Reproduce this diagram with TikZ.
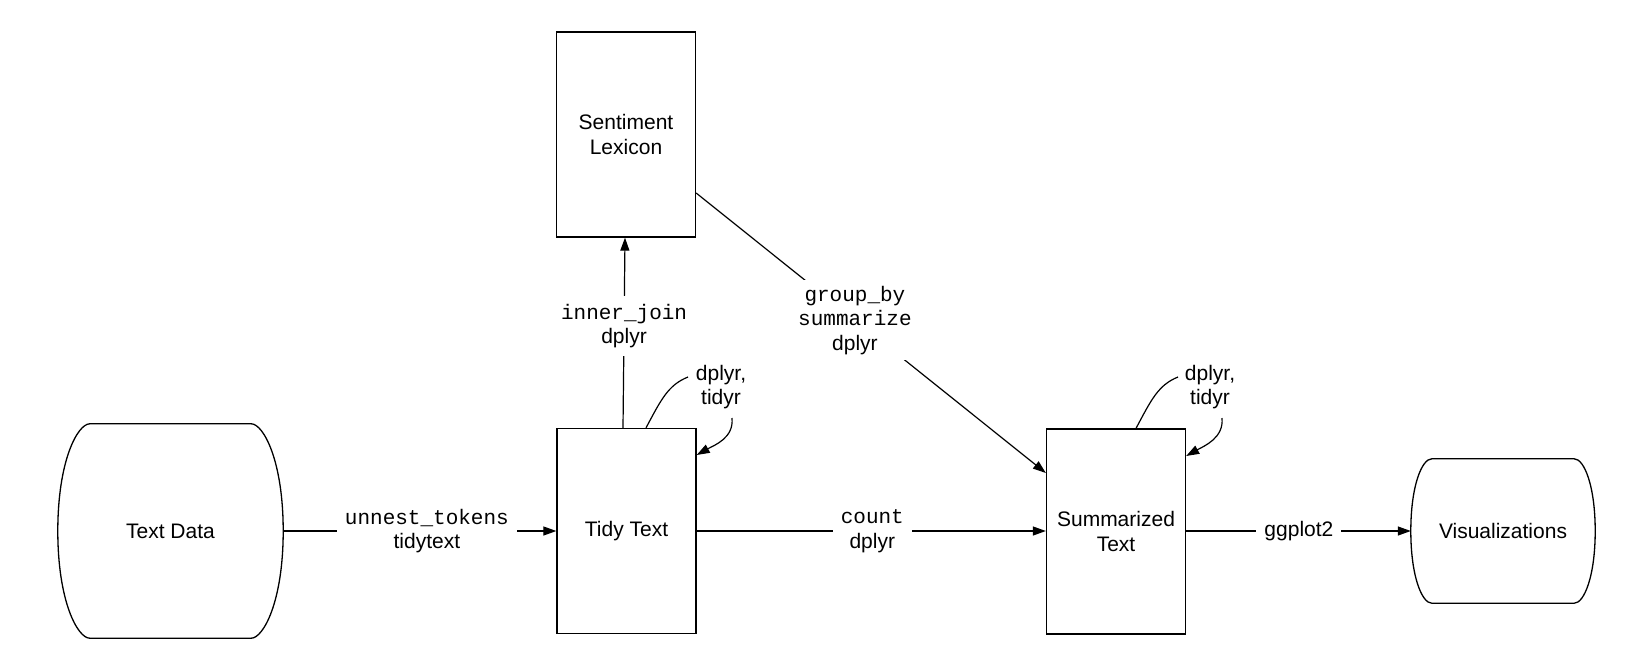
\documentclass[tikz,border=0pt]{standalone}
\usepackage{fontspec}
\setmainfont{Liberation Sans}
\setmonofont{Liberation Mono}
\usetikzlibrary{arrows.meta}
\begin{document}
\begin{tikzpicture}[x=1pt,y=-1pt,
  every node/.style={font=\fontsize{21}{24.5}\selectfont},
  box/.style={draw, line width=1.3pt, minimum width=139pt, minimum height=205pt, inner sep=0pt, align=center},
  shell/.style={inner sep=0pt, align=center},
  outline/.style={line width=1.3pt},
  lbl/.style={fill=white, align=center, inner xsep=8pt, inner ysep=4pt},
  side/.style={align=center, inner sep=0pt},
  conn/.style={line width=1.2pt},
  arr/.style={conn, -{Triangle[length=13pt,width=9pt]}},
]
\useasboundingbox (0,0) rectangle (1630,662);

% nodes
\node[shell, minimum width=225pt, minimum height=214pt] (td) at (170.5,531) {Text Data};
\node[box] (tidy) at (626.5,531) {Tidy Text};
\node[box] (sent) at (626,134.5) {Sentiment\\Lexicon};
\node[box] (summ) at (1116,531.5) {Summarized\\Text};
\node[shell, minimum width=184pt, minimum height=144pt] (vis) at (1503,531) {Visualizations};

% terminal outlines
\draw[outline] ([xshift=32pt]td.north west) -- ([xshift=-32pt]td.north east)
  .. controls +(12,0) and +(0,-71) .. (td.east)
  .. controls +(0,71) and +(12,0) .. ([xshift=-32pt]td.south east)
  -- ([xshift=32pt]td.south west)
  .. controls +(-12,0) and +(0,71) .. (td.west)
  .. controls +(0,-71) and +(-12,0) .. cycle;
\draw[outline] ([xshift=21pt]vis.north west) -- ([xshift=-21pt]vis.north east)
  .. controls +(10,0) and +(0,-45) .. (vis.east)
  .. controls +(0,45) and +(10,0) .. ([xshift=-21pt]vis.south east)
  -- ([xshift=21pt]vis.south west)
  .. controls +(-10,0) and +(0,45) .. (vis.west)
  .. controls +(0,-45) and +(-10,0) .. cycle;

% connectors
\draw[arr] (td.east) -- node[lbl, pos=0.526] {\texttt{unnest\_tokens}\\tidytext} (tidy.west);
\draw[arr] ([xshift=-3.5pt]tidy.north) -- node[lbl, pos=0.534, inner ysep=8pt] {\texttt{inner\_join}\\dplyr} ([xshift=-1pt]sent.south);
\draw[arr] (tidy.east) -- node[lbl, pos=0.503] {\texttt{count}\\dplyr} (tidy.east -| summ.west);
\draw[arr] ([yshift=-58.5pt]sent.east) -- node[lbl, pos=0.454, inner ysep=6pt] {\texttt{group\_by}\\\texttt{summarize}\\dplyr} ([yshift=58.5pt]summ.west);
\draw[arr] (summ.east |- vis.west) -- node[lbl, pos=0.502] {ggplot2} (vis.west);

% self loops
\node[side] (l1) at (721,387) {dplyr,\\tidyr};
\coordinate (l1a) at (688,377);
\coordinate (l1b) at (732,418);
\draw[conn] ([xshift=19.5pt]tidy.north) .. controls +(15,-28) and +(-20,8) .. (l1a);
\draw[arr] (l1b) .. controls +(2,20) and +(18,-10) .. ([yshift=76pt]tidy.east);

\node[side] (l2) at (1210,387) {dplyr,\\tidyr};
\coordinate (l2a) at (1178,377);
\coordinate (l2b) at (1222,418);
\draw[conn] ([xshift=20pt]summ.north) .. controls +(15,-28) and +(-20,8) .. (l2a);
\draw[arr] (l2b) .. controls +(2,20) and +(18,-10) .. ([yshift=75.5pt]summ.east);
\end{tikzpicture}
\end{document}
